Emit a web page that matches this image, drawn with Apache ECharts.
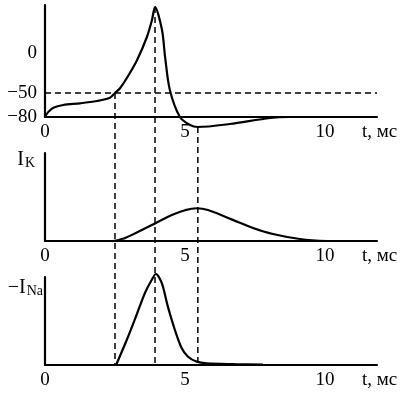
<!DOCTYPE html>
<html>
<head>
<meta charset="utf-8">
<script src="https://cdn.jsdelivr.net/npm/echarts@6/dist/echarts.min.js"></script>
<style>html,body{margin:0;padding:0;background:#fff}#c{width:402px;height:394px}</style>
</head>
<body>
<div id="c"></div>
<script>
// ---- data (time in ms) ----
const xTicks = [0, 5, 10];
const apTicks = [-80, -50, 0];
const threshold = -50;
// membrane potential, mV
const tAP = [0, 0.12, 0.3, 0.65, 1.25, 1.85, 2.32, 2.5, 2.68, 2.93, 3.29, 3.64, 3.82, 3.93, 4.18, 4.29, 4.46, 4.82, 5.18, 5.46, 6.6, 8.04, 8.75, 11.86];
const vAP = [-80, -73.6, -68.4, -65, -62.9, -60, -55.9, -50, -44, -31, -8.75, 20, 41, 57.5, 28.75, -5, -46.25, -80, -90, -92.5, -88.75, -81.25, -80, -80];
// potassium current, arbitrary units
const tK = [0, 2.43, 2.86, 3.33, 3.93, 4.53, 5.0, 5.42, 5.82, 6.71, 7.43, 8.14, 9.11, 10.07];
const vK = [0, 0, 3.5, 10.5, 20, 29.5, 35, 37.2, 35.2, 24, 14.8, 8.0, 2.3, 0];
// minus sodium current, arbitrary units
const tNa = [2.54, 2.92, 3.27, 3.57, 3.81, 3.96, 4.17, 4.39, 4.64, 4.88, 5.11, 5.42, 5.77, 6.79, 7.79];
const vNa = [0, 28.4, 56.8, 81.8, 96.6, 103.4, 93.2, 66.3, 39.8, 19.3, 9.4, 3.8, 1.9, 1.0, 0.4];
// marked moments: threshold, peak, undershoot minimum  [t, V]
const eventT = [2.5, 3.93, 5.46];
const eventV = [-50, 57.5, -92.5];

const FONT = 'Liberation Serif';
const BLACK = '#000';
const zip = (a, b) => a.map((v, i) => [v, b[i]]);

const chart = echarts.init(document.getElementById('c'), null, {renderer: 'canvas'});

function xAxis(i) {
  return {
    type: 'value', gridIndex: i, min: 0, max: 11.86, interval: 5,
    axisLine: {show: true, onZero: false, lineStyle: {color: BLACK, width: 2.2}},
    axisTick: {show: false}, splitLine: {show: false},
    axisLabel: {color: BLACK, fontFamily: FONT, fontSize: 19, margin: 6, customValues: xTicks},
    name: 't, мс', nameLocation: 'end', nameGap: -15, nameMoveOverlap: false,
    nameTextStyle: {color: BLACK, fontFamily: FONT, fontSize: 19, align: 'left', verticalAlign: 'top', padding: [6, 0, 0, 0]}
  };
}
function nameStyle(pad) {
  return {
    align: 'right', verticalAlign: 'top', padding: [0, pad, 0, 0],
    rich: {
      i: {fontSize: 20, fontFamily: FONT, color: BLACK, lineHeight: 20, verticalAlign: 'top'},
      s: {fontSize: 14, fontFamily: FONT, color: BLACK, lineHeight: 14, verticalAlign: 'bottom', padding: [11, 0, 0, 1]}
    }
  };
}
const yLine = {show: true, onZero: false, lineStyle: {color: BLACK, width: 2.2}};

chart.setOption({
  animation: false,
  backgroundColor: '#fff',
  grid: [
    {left: 45, top: 5, width: 332, height: 112, containLabel: false, outerBoundsMode: 'none'},
    {left: 45, top: 153, width: 332, height: 88, containLabel: false, outerBoundsMode: 'none'},
    {left: 45, top: 277, width: 332, height: 88, containLabel: false, outerBoundsMode: 'none'}
  ],
  xAxis: [xAxis(0), xAxis(1), xAxis(2)],
  yAxis: [
    {type: 'value', gridIndex: 0, min: -80, max: 60, axisLine: yLine, axisTick: {show: false}, splitLine: {show: false},
     axisLabel: {color: BLACK, fontFamily: FONT, fontSize: 19, margin: 8, customValues: apTicks,
       formatter: v => String(v).replace('-', '\u2212')}},
    {type: 'value', gridIndex: 1, min: 0, max: 100, axisLine: yLine, axisTick: {show: false}, splitLine: {show: false},
     axisLabel: {show: false}, name: '{i|I}{s|K}', nameLocation: 'end', nameGap: 3, nameMoveOverlap: false, nameTextStyle: nameStyle(10)},
    {type: 'value', gridIndex: 2, min: 0, max: 100, axisLine: yLine, axisTick: {show: false}, splitLine: {show: false},
     axisLabel: {show: false}, name: '{i|\u2212I}{s|Na}', nameLocation: 'end', nameGap: -1, nameMoveOverlap: false, nameTextStyle: nameStyle(2)}
  ],
  series: [
    {type: 'line', xAxisIndex: 0, yAxisIndex: 0, data: zip(tAP, vAP), showSymbol: false, smooth: 0.3, clip: false,
     lineStyle: {color: BLACK, width: 2.2},
     markLine: {silent: true, symbol: 'none', label: {show: false},
       lineStyle: {color: BLACK, width: 1.5, type: [6, 4]}, data: [{yAxis: threshold}]}},
    {type: 'line', xAxisIndex: 1, yAxisIndex: 1, data: zip(tK, vK), showSymbol: false, smooth: 0.4, clip: false,
     lineStyle: {color: BLACK, width: 2.2}},
    {type: 'line', xAxisIndex: 2, yAxisIndex: 2, data: zip(tNa, vNa), showSymbol: false, smooth: 0.3, clip: false,
     lineStyle: {color: BLACK, width: 2.2}}
  ]
});

// vertical dashed lines from the potential curve down to the bottom axis, placed via the chart's scales
const lines = eventT.map((t, i) => {
  const p1 = chart.convertToPixel({xAxisIndex: 0, yAxisIndex: 0}, [t, eventV[i]]);
  const p2 = chart.convertToPixel({xAxisIndex: 2, yAxisIndex: 2}, [t, 0]);
  return {type: 'line', silent: true, z: 1,
    shape: {x1: p1[0], y1: p1[1], x2: p2[0], y2: p2[1]},
    style: {stroke: BLACK, lineWidth: 1.5, lineDash: [6, 4]}};
});
chart.setOption({graphic: lines});
</script>
</body>
</html>
